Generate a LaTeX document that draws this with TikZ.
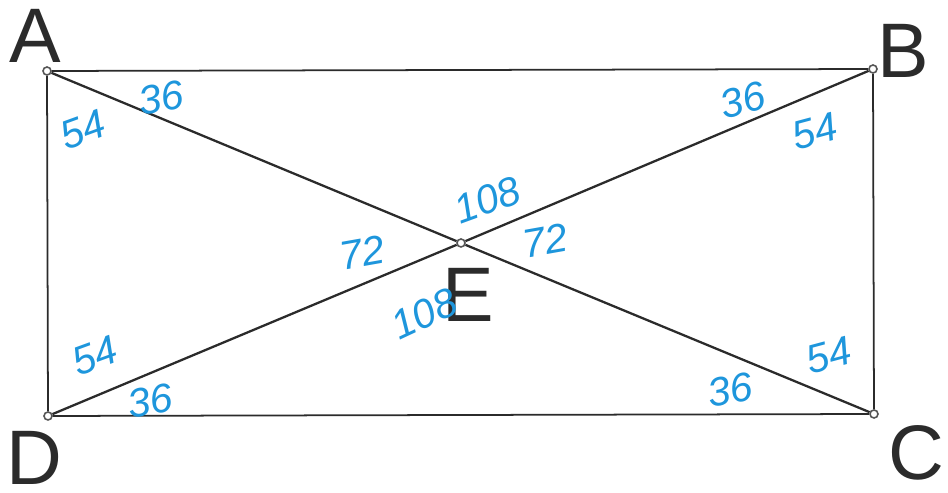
\documentclass[tikz,border=0pt]{standalone}
\usepackage{fontspec}
\setmainfont{Liberation Sans}
\usetikzlibrary{calc}
\definecolor{Ink}{HTML}{2B2B2B}
\definecolor{Pen}{HTML}{1E96DC}
\definecolor{Rim}{HTML}{555555}
\tikzset{
  vertex/.style={
    circle, draw=Rim, fill=white, line width=0.9pt,
    minimum size=0.16cm, inner sep=0pt
  },
  letter/.style={
    text=Ink, font=\fontsize{44}{44}\selectfont, inner sep=0pt
  },
  angle/.style={
    text=Pen, font=\fontsize{23}{23}\selectfont\itshape, inner sep=0pt
  },
  side/.style={draw=Ink, line width=1pt},
  diag/.style={draw=Ink, line width=1.3pt}
}
\begin{document}
\begin{tikzpicture}[x=0.02cm,y=-0.02cm]
    \useasboundingbox (0,0) rectangle (948,493);
    % corner points
    \node[vertex] (A) at (47,71) {};
    \node[vertex] (B) at (873,69) {};
    \node[vertex] (C) at (874,414) {};
    \node[vertex] (D) at (48,416) {};
    \node[vertex] (E) at (461,243) {};
    \draw[side] (A)--(B);
    \draw[side] (B)--(C);
    \draw[side] (C)--(D);
    \draw[side] (D)--(A);
    \draw[diag] (A)--(E);
    \draw[diag] (E)--(C);
    \draw[diag] (B)--(E);
    \draw[diag] (E)--(D);
    % vertex names
    \node[letter] (labA) at (35,36) {A};
    \node[letter] (labB) at (903,51) {B};
    \node[letter] (labC) at (916,453) {C};
    \node[letter] (labD) at (34,458) {D};
    \node[letter] (labE) at (468,295) {E};
    % angles
    \node[angle,rotate=20] (aA1) at (83,130) {54};
    \node[angle,rotate=10] (aA2) at (161,98) {36};
    \node[angle,rotate=15] (aB1) at (743,100) {36};
    \node[angle,rotate=15] (aB2) at (815,131) {54};
    \node[angle,rotate=20] (aE1) at (487,200) {108};
    \node[angle,rotate=10] (aE2) at (545,241) {72};
    \node[angle,rotate=10] (aE3) at (362,253) {72};
    \node[angle,rotate=25] (aE4) at (424,314) {108};
    \node[angle,rotate=20] (aD1) at (95,356) {54};
    \node[angle,rotate=10] (aD2) at (150,401) {36};
    \node[angle,rotate=10] (aC1) at (730,390) {36};
    \node[angle,rotate=15] (aC2) at (829,355) {54};
\end{tikzpicture}
\end{document}
